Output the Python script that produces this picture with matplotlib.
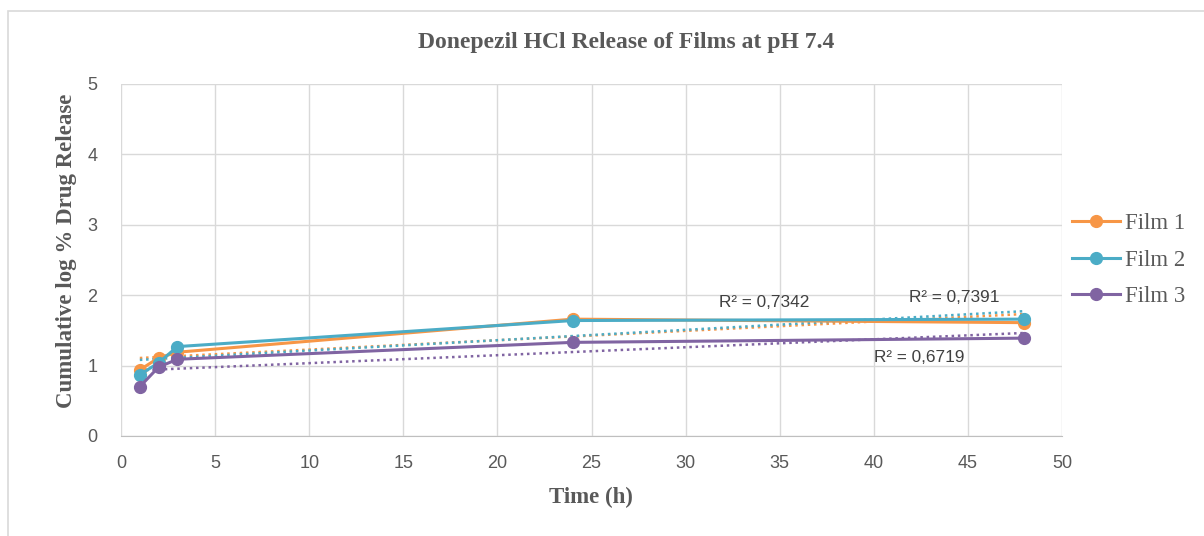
import matplotlib
matplotlib.use("Agg")
import matplotlib.pyplot as plt
import numpy as np
from matplotlib.patches import Rectangle

# data
time_h = [1, 2, 3, 24, 48]
film1 = [0.94, 1.11, 1.19, 1.66, 1.61]
film2 = [0.87, 1.04, 1.27, 1.64, 1.66]
film3 = [0.70, 0.98, 1.09, 1.33, 1.39]
series_names = ["Film 1", "Film 2", "Film 3"]
r2_labels = ["R² = 0,7342", "R² = 0,7391", "R² = 0,6719"]

colors = ["#F79646", "#4BACC6", "#8064A2"]
serif = ["Liberation Serif", "DejaVu Serif"]
sans = ["Liberation Sans", "DejaVu Sans"]
W, H = 1204, 536

fig = plt.figure(figsize=(W / 100, H / 100), dpi=100)
fig.patches.append(Rectangle((8 / W, -0.1), 1.2, (H - 11) / H + 0.1,
                             transform=fig.transFigure, fill=False,
                             edgecolor="#d9d9d9", linewidth=1.2))
ax = fig.add_axes([121 / W, 1 - 436 / H, 941 / W, 352 / H])

t = np.asarray(time_h, dtype=float)
handles = []
for values, name, color in zip((film1, film2, film3), series_names, colors):
    (h,) = ax.plot(t, values, "-o", color=color, linewidth=2.2,
                   markersize=8.5, label=name, zorder=3)
    handles.append(h)
    # linear trend line, as in the spreadsheet chart
    slope, intercept = np.polyfit(t, values, 1)
    ax.plot([t[0], t[-1]], [slope * t[0] + intercept, slope * t[-1] + intercept],
            linestyle=(0, (1, 1.5)), color=color, linewidth=1.8, zorder=2)

for (x, y), text in zip([(34.2, 1.89), (44.3, 1.97), (42.4, 1.11)], r2_labels):
    ax.text(x, y, text, ha="center", va="center", fontsize=12.4,
            family=sans, color="#404040")

ax.set_xlim(0, 50)
ax.set_ylim(0, 5)
ax.set_xticks(np.arange(0, 51, 5))
ax.set_yticks(np.arange(0, 6, 1))
ax.grid(color="#d9d9d9", linewidth=1)
ax.set_axisbelow(True)
for side in ("top", "right", "left"):
    ax.spines[side].set_visible(False)
ax.spines["bottom"].set_color("#bfbfbf")
ax.tick_params(length=0, labelsize=13, labelcolor="#595959")
ax.tick_params(axis="x", pad=14)
ax.tick_params(axis="y", pad=17)
for label in ax.get_xticklabels() + ax.get_yticklabels():
    label.set_family(sans)

fig.text(591 / W, 1 - 497 / H, "Time (h)", ha="center", va="center",
         family=serif, fontsize=16.5, fontweight="bold", color="#595959")
fig.text(67 / W, 1 - 251 / H, "Cumulative log % Drug Release", rotation=90,
         ha="center", va="center", family=serif, fontsize=16.5,
         fontweight="bold", color="#595959")
fig.text(626 / W, 1 - 42 / H, "Donepezil HCl Release of Films at pH 7.4",
         ha="center", va="center", family=serif, fontsize=17,
         fontweight="bold", color="#595959")

fig.legend(handles=handles, loc="center left", bbox_to_anchor=(1072 / W, 1 - 260 / H),
           frameon=False, prop={"family": serif, "size": 16.5}, labelcolor="#595959",
           handlelength=2.1, handletextpad=0.2, labelspacing=0.68,
           borderaxespad=0, borderpad=0)

fig.savefig("out.png", dpi=100, facecolor="white")
